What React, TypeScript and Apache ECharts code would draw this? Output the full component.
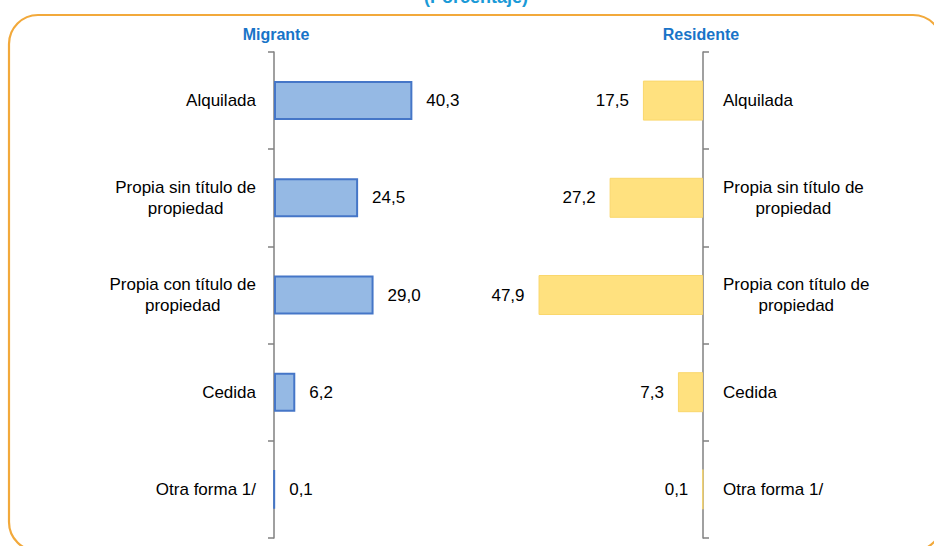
import React, { useEffect, useRef } from "react";
import * as echarts from "echarts";

const categories = [
  "Alquilada",
  "Propia sin título de\npropiedad",
  "Propia con título de\npropiedad",
  "Cedida",
  "Otra forma 1/",
];
const migrante = [40.3, 24.5, 29.0, 6.2, 0.1];
const residente = [17.5, 27.2, 47.9, 7.3, 0.1];
const groupTitles = ["Migrante", "Residente"];
const subtitle = "(Porcentaje)";

const FONT = "'Liberation Sans', Arial, sans-serif";
const fmtVal = (v: number) => v.toFixed(1).replace(".", ",");
const fmtCat = (s: string) =>
  s
    .split("\n")
    .map((l) => `{c|${l}}`)
    .join("\n");

export default function App() {
  const ref = useRef<HTMLDivElement>(null);
  useEffect(() => {
    if (!ref.current) return;
    const chart = echarts.init(ref.current, null, { renderer: "svg" });
    const axisLabelBase = {
      fontFamily: FONT,
      fontSize: 17,
      color: "#000",
      lineHeight: 21,
      formatter: fmtCat,
      rich: { c: { align: "center", fontFamily: FONT, fontSize: 17, color: "#000", lineHeight: 21 } },
    };
    chart.setOption({
      animation: false,
      backgroundColor: "#fff",
      grid: [
        { left: 274, top: 52, width: 206, height: 486 },
        { left: 497, top: 52, width: 206, height: 486 },
      ],
      xAxis: [
        { type: "value", gridIndex: 0, min: 0, max: 60, show: false },
        { type: "value", gridIndex: 1, min: 0, max: 60, inverse: true, show: false },
      ],
      yAxis: [
        {
          type: "category",
          gridIndex: 0,
          data: categories,
          inverse: true,
          position: "left",
          axisLine: { lineStyle: { color: "#808080", width: 1.5 } },
          axisTick: { show: true, length: 6, lineStyle: { color: "#808080", width: 1.5 } },
          axisLabel: { ...axisLabelBase, margin: 18 },
        },
        {
          type: "category",
          gridIndex: 1,
          data: categories,
          inverse: true,
          position: "right",
          axisLine: { lineStyle: { color: "#808080", width: 1.5 } },
          axisTick: { show: true, length: 6, lineStyle: { color: "#808080", width: 1.5 } },
          axisLabel: { ...axisLabelBase, margin: 20 },
        },
      ],
      series: [
        {
          type: "bar",
          xAxisIndex: 0,
          yAxisIndex: 0,
          data: migrante,
          barWidth: 39,
          itemStyle: { color: "#95B9E4", borderColor: "#4576C7", borderWidth: 2 },
          label: {
            show: true,
            position: "right",
            distance: 14,
            fontFamily: FONT,
            fontSize: 17,
            color: "#000",
            formatter: (p: any) => fmtVal(p.value),
          },
        },
        {
          type: "bar",
          xAxisIndex: 1,
          yAxisIndex: 1,
          data: residente,
          barWidth: 40,
          itemStyle: { color: "#FFE17F", borderColor: "#FAD76C", borderWidth: 1 },
          label: {
            show: true,
            position: "left",
            distance: 14,
            fontFamily: FONT,
            fontSize: 17,
            color: "#000",
            formatter: (p: any) => fmtVal(p.value),
          },
        },
      ],
      graphic: [
        {
          type: "rect",
          shape: { x: 9, y: 15, width: 933, height: 536, r: 29 },
          style: { fill: "none", stroke: "#F2A93B", lineWidth: 2.2 },
          silent: true,
        },
        {
          type: "text",
          x: 476,
          y: 6,
          style: {
            text: subtitle,
            fontFamily: FONT,
            fontSize: 18,
            fontWeight: "bold",
            fill: "#1A9AD7",
            textAlign: "center",
            textVerticalAlign: "bottom",
          },
        },
        {
          type: "text",
          x: 276,
          y: 34,
          style: {
            text: groupTitles[0],
            fontFamily: FONT,
            fontSize: 16,
            fontWeight: "bold",
            fill: "#1874C8",
            textAlign: "center",
            textVerticalAlign: "middle",
          },
        },
        {
          type: "text",
          x: 701,
          y: 34,
          style: {
            text: groupTitles[1],
            fontFamily: FONT,
            fontSize: 16,
            fontWeight: "bold",
            fill: "#1874C8",
            textAlign: "center",
            textVerticalAlign: "middle",
          },
        },
      ],
    });
    return () => chart.dispose();
  }, []);
  return (
    <div
      ref={ref}
      style={{ position: "fixed", left: 0, top: 0, width: 934, height: 546 }}
    />
  );
}
